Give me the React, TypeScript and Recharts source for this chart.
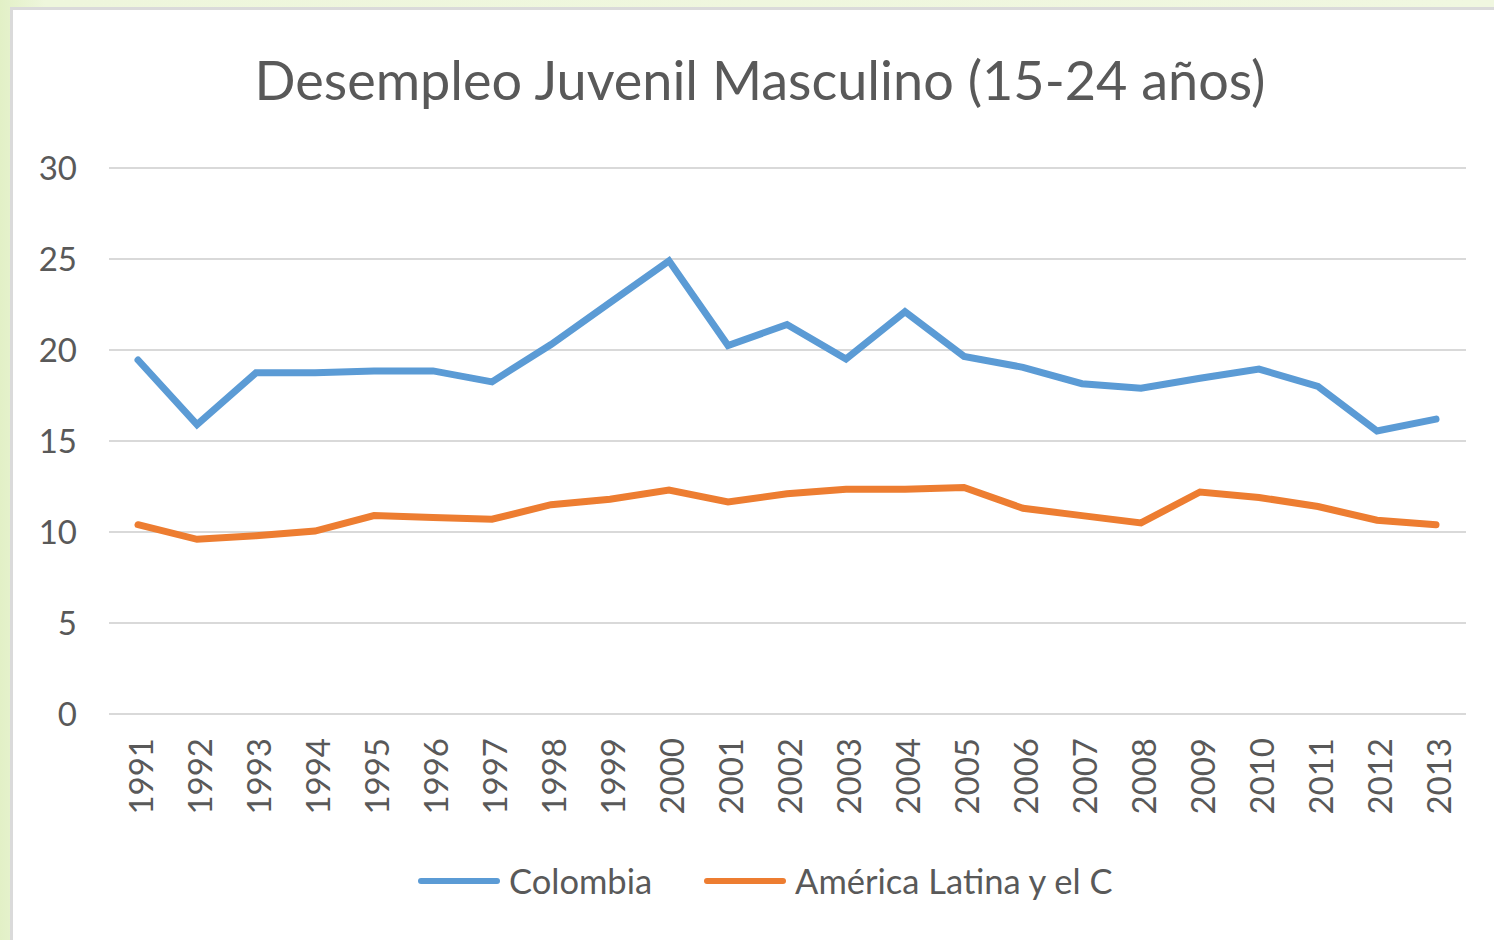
import React from 'react';
import { LineChart, Line, XAxis, YAxis, CartesianGrid, Legend } from 'recharts';

const years = ['1991','1992','1993','1994','1995','1996','1997','1998','1999','2000','2001','2002','2003','2004','2005','2006','2007','2008','2009','2010','2011','2012','2013'];
const colombia = [19.45, 15.9, 18.75, 18.75, 18.85, 18.85, 18.25, 20.3, 22.6, 24.9, 20.25, 21.4, 19.5, 22.1, 19.65, 19.05, 18.15, 17.9, 18.45, 18.95, 18.0, 15.55, 16.2];
const latam = [10.4, 9.6, 9.8, 10.05, 10.9, 10.8, 10.7, 11.5, 11.8, 12.3, 11.65, 12.1, 12.35, 12.35, 12.45, 11.3, 10.9, 10.5, 12.2, 11.9, 11.4, 10.65, 10.4];
const yTicks = [0, 5, 10, 15, 20, 25, 30];
const seriesNames = ['Colombia', 'América Latina y el C'];
const title = 'Desempleo Juvenil Masculino (15-24 años)';

const data = years.map((y, i) => ({ year: y, colombia: colombia[i], latam: latam[i] }));

const FONT = 'Lato, "Noto Sans", sans-serif';
const TEXT = '#595959';

const YearTick = (props: any) => {
  const { x, y, payload } = props;
  return (
    <text
      transform={`translate(${x + 2},${y + 16}) rotate(-90)`}
      textAnchor="end"
      dominantBaseline="central"
      fill={TEXT}
      fontSize={33}
      fontFamily={FONT}
    >
      {payload.value}
    </text>
  );
};

const LegendContent = (props: any) => {
  const items = [...(props.payload || [])].sort(
    (a: any, b: any) => seriesNames.indexOf(a.value) - seriesNames.indexOf(b.value)
  );
  return (
    <div style={{ display: 'flex', alignItems: 'center', fontFamily: FONT, fontSize: 34.5, color: TEXT, whiteSpace: 'nowrap' }}>
      {items.map((p: any, i: number) => (
        <div key={i} style={{ display: 'flex', alignItems: 'center', marginRight: i === 0 ? 52 : 0 }}>
          <div style={{ width: 82, height: 6, borderRadius: 3, background: p.color, marginRight: 9 }} />
          <span>{p.value}</span>
        </div>
      ))}
    </div>
  );
};

export default function App() {
  return (
    <div style={{ position: 'fixed', left: 0, top: 0, width: 1494, height: 940, overflow: 'hidden',
      background: 'linear-gradient(90deg, #e2f0c6 0%, #eef6dc 3%, #f0f7e0 100%)' }}>
      <div style={{ position: 'absolute', left: 10, top: 7, width: 1494, height: 940, background: '#fff',
        borderLeft: '3px solid #dadada', borderTop: '3px solid #dadada' }} />
      <div style={{ position: 'absolute', left: 0, top: 47, width: 1520, textAlign: 'center',
        fontFamily: FONT, fontSize: 54, color: TEXT, lineHeight: '66px', whiteSpace: 'nowrap' }}>{title}</div>
      <div style={{ position: 'absolute', left: 0, top: 0 }}>
        <LineChart width={1494} height={940} data={data} margin={{ top: 168, right: 28, bottom: 126, left: 0 }}>
          <CartesianGrid vertical={false} stroke="#d9d9d9" strokeWidth={2} />
          <XAxis dataKey="year" height={100} axisLine={false} tickLine={false} interval={0} tick={<YearTick />}
            padding={{ left: 29, right: 30 }} />
          <YAxis domain={[0, 30]} ticks={yTicks} width={109} axisLine={false} tickLine={false} tickMargin={26}
            tick={{ fill: TEXT, fontSize: 33, fontFamily: FONT }} />
          <Legend layout="horizontal" verticalAlign="middle" align="center" content={<LegendContent />}
            wrapperStyle={{ position: 'absolute', top: 860, left: 418, width: 'auto' }} />
          <Line type="linear" dataKey="colombia" name={seriesNames[0]} stroke="#5b9bd5" strokeWidth={7} dot={false}
            strokeLinecap="round" isAnimationActive={false} />
          <Line type="linear" dataKey="latam" name={seriesNames[1]} stroke="#ed7d31" strokeWidth={7} dot={false}
            strokeLinecap="round" isAnimationActive={false} />
        </LineChart>
      </div>
    </div>
  );
}
